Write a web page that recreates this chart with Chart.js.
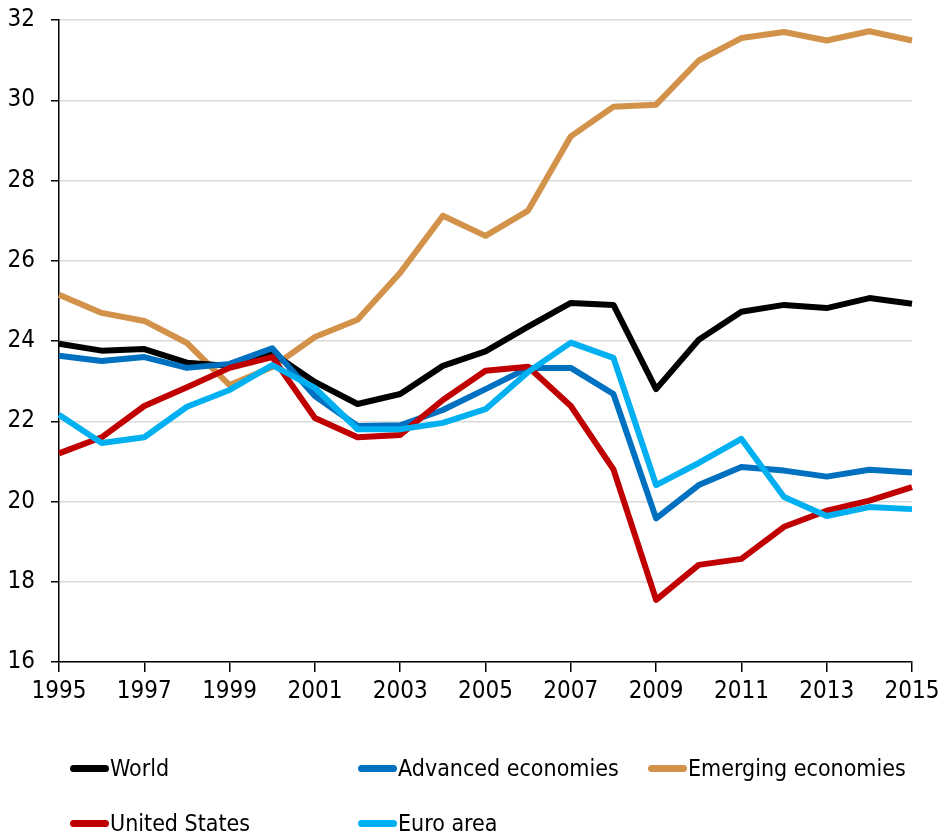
<!DOCTYPE html>
<html>
<head>
<meta charset="utf-8">
<script src="https://cdn.jsdelivr.net/npm/chart.js@4.4.1/dist/chart.umd.min.js"></script>
<style>
    html, body { margin: 0; padding: 0; background: #fff; }
    #wrap { position: relative; width: 938px; height: 838px; }
    #legend { position: absolute; left: 0; top: 0; width: 938px; height: 838px; pointer-events: none; }
    .item {
        position: absolute;
        display: flex;
        align-items: center;
        transform: translateY(-50%);
        font-family: 'DejaVu Sans Condensed', sans-serif;
        font-size: 23px;
        color: #000;
        white-space: nowrap;
    }
    .swatch { width: 39px; height: 7px; border-radius: 4px; margin-right: 1px; }
</style>
</head>
<body>
<div id="wrap">
    <canvas id="chart" width="938" height="838"></canvas>
    <div id="legend"></div>
</div>
<script>
// Data
const years = ['1995', '1996', '1997', '1998', '1999', '2000', '2001', '2002', '2003', '2004', '2005',
    '2006', '2007', '2008', '2009', '2010', '2011', '2012', '2013', '2014', '2015'];

const world = [23.93, 23.76, 23.80, 23.46, 23.38, 23.70, 22.98, 22.43, 22.68, 23.38, 23.74,
    24.36, 24.95, 24.90, 22.80, 24.03, 24.73, 24.90, 24.82, 25.07, 24.93];
const advanced = [23.63, 23.50, 23.60, 23.33, 23.43, 23.82, 22.63, 21.88, 21.90, 22.28, 22.80,
    23.33, 23.33, 22.68, 19.58, 20.41, 20.86, 20.77, 20.62, 20.79, 20.72];
const emerging = [25.15, 24.70, 24.50, 23.95, 22.90, 23.35, 24.10, 24.53, 25.70, 27.12, 26.62,
    27.25, 29.10, 29.84, 29.89, 30.99, 31.55, 31.70, 31.49, 31.72, 31.49];
const unitedStates = [21.20, 21.60, 22.38, 22.85, 23.33, 23.60, 22.08, 21.60, 21.66, 22.53, 23.26,
    23.36, 22.38, 20.80, 17.55, 18.42, 18.57, 19.37, 19.77, 20.02, 20.36];
const euroArea = [22.16, 21.46, 21.60, 22.36, 22.78, 23.40, 22.83, 21.80, 21.80, 21.96, 22.30,
    23.23, 23.96, 23.58, 20.41, 20.96, 21.56, 20.11, 19.64, 19.86, 19.81];

const seriesNames = ['World', 'Advanced economies', 'Emerging economies', 'United States', 'Euro area'];
const seriesData = [world, advanced, emerging, unitedStates, euroArea];

const yMin = 16;
const yMax = 32;
const yStep = 2;

// Styles
const colors = ['#000000', '#0070C0', '#D39249', '#C00000', '#00B0F0'];
const drawOrder = [3, 2, 4, 1, 0]; // lower = drawn on top
const fontFamily = "'DejaVu Sans Condensed', sans-serif";

const datasets = seriesNames.map((name, i) => ({
    label: name,
    data: seriesData[i],
    borderColor: colors[i],
    backgroundColor: colors[i],
    borderWidth: 6,
    pointRadius: 0,
    tension: 0,
    borderJoinStyle: 'round',
    borderCapStyle: 'butt',
    order: drawOrder[i]
}));

const ctx = document.getElementById('chart').getContext('2d');
const chart = new Chart(ctx, {
    type: 'line',
    data: { labels: years, datasets: datasets },
    options: {
        responsive: false,
        animation: false,
        layout: { padding: { top: 20, right: 26, left: 0, bottom: 0 } },
        plugins: {
            legend: { display: false },
            tooltip: { enabled: false }
        },
        scales: {
            x: {
                offset: false,
                afterFit: (scale) => {
                    scale.height = 176;
                    scale.paddingLeft = 0;
                    scale.paddingRight = 0;
                },
                grid: {
                    drawOnChartArea: false,
                    drawTicks: true,
                    tickLength: 10,
                    color: (c) => (c.index % 2 === 0 ? '#000' : 'transparent'),
                    lineWidth: 1.5
                },
                border: { display: true, color: '#000', width: 1.5 },
                ticks: {
                    autoSkip: false,
                    maxRotation: 0,
                    padding: 5,
                    color: '#000',
                    font: { family: fontFamily, size: 24 },
                    callback: (v, i) => (i % 2 === 0 ? years[i] : '')
                }
            },
            y: {
                min: yMin,
                max: yMax,
                afterFit: (scale) => {
                    scale.width = 59;
                    scale.paddingTop = 0;
                    scale.paddingBottom = 0;
                },
                grid: {
                    color: '#D9D9D9',
                    lineWidth: 1.5,
                    tickColor: '#000',
                    tickLength: 8
                },
                border: { display: true, color: '#000', width: 1.5 },
                ticks: {
                    stepSize: yStep,
                    padding: 16,
                    color: '#000',
                    font: { family: fontFamily, size: 24 }
                }
            }
        }
    }
});

// HTML legend, two rows of three columns
const legend = document.getElementById('legend');
const colX = [70, 358, 648];
const rowY = [768, 823];
seriesNames.forEach((name, i) => {
    const item = document.createElement('div');
    item.className = 'item';
    item.style.left = colX[i % 3] + 'px';
    item.style.top = rowY[Math.floor(i / 3)] + 'px';
    item.innerHTML = `<span class="swatch" style="background:${colors[i]}"></span><span>${name}</span>`;
    legend.appendChild(item);
});
</script>
</body>
</html>
